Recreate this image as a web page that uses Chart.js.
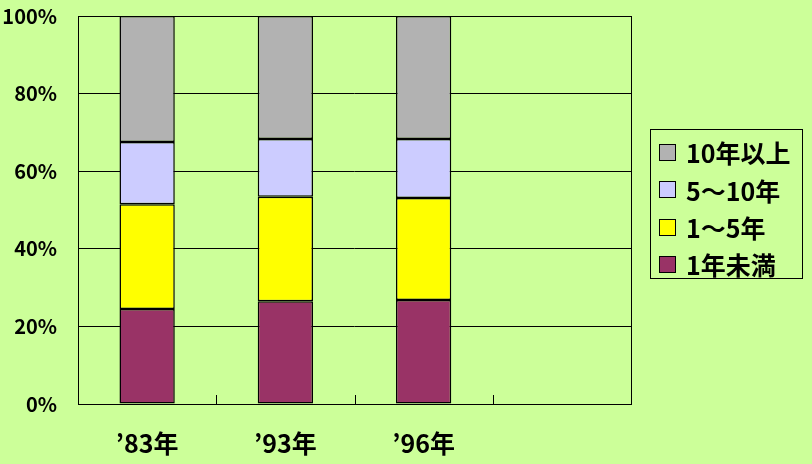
<!DOCTYPE html>
<html><head><meta charset="utf-8">
<script src="https://cdn.jsdelivr.net/npm/chart.js@4/dist/chart.umd.min.js"></script>
<style>
html,body{margin:0;padding:0;background:#CCFF99;}
#wrap{position:relative;width:812px;height:464px;}
#legend{position:absolute;left:650px;top:129px;width:151px;height:148px;border:1px solid #000;font-family:"Noto Sans CJK JP";font-weight:bold;font-size:25px;color:#000;}
.item{position:absolute;left:8px;display:flex;align-items:center;height:30px;line-height:30px;}
.sw{width:15px;height:15px;border:1px solid #000;margin-right:10px;flex:none;}
</style>
</head><body>
<div id="wrap">
<canvas id="c" width="812" height="464"></canvas>
<div id="legend"></div>
</div>
<script>
const categories = ["’83年", "’93年", "’96年", ""];
const seriesNames = ["1年未満", "1～5年", "5～10年", "10年以上"];
const lessThan1 = [24.5, 26.5, 26.8, null];
const from1to5 = [27.0, 26.9, 26.3, null];
const from5to10 = [16.0, 14.9, 15.2, null];
const over10 = [32.5, 31.7, 31.7, null];
const yTicks = [0, 20, 40, 60, 80, 100];

const colors = ["#993366", "#FFFF00", "#CCCCFF", "#B2B2B2"];
const values = [lessThan1, from1to5, from5to10, over10];

const FONT = '"Noto Sans CJK JP", "Noto Sans", sans-serif';

const frame = {
  id: 'frame',
  afterDatasetsDraw(chart) {
    const {ctx, chartArea: a, scales: {x}} = chart;
    ctx.save();
    ctx.strokeStyle = '#000';
    ctx.lineWidth = 1;
    ctx.strokeRect(Math.round(a.left) + 0.5, Math.round(a.top) + 0.5, Math.round(a.right - a.left), Math.round(a.bottom - a.top));
    const n = categories.length;
    ctx.beginPath();
    for (let i = 0; i < n - 1; i++) {
      const px = Math.round((x.getPixelForValue(i) + x.getPixelForValue(i + 1)) / 2) + 0.5;
      ctx.moveTo(px, a.bottom);
      ctx.lineTo(px, a.bottom - 9);
    }
    ctx.stroke();
    ctx.restore();
  }
};

new Chart(document.getElementById('c'), {
  type: 'bar',
  data: {
    labels: categories,
    datasets: seriesNames.map((name, i) => ({
      label: name,
      data: values[i],
      backgroundColor: colors[i],
      borderColor: '#000',
      borderWidth: 1.5,
      borderSkipped: false,
      categoryPercentage: 1.0,
      barPercentage: 0.4
    }))
  },
  options: {
    responsive: false,
    animation: false,
    layout: {padding: {left: 0, top: 16, right: 181, bottom: 0}},
    plugins: {legend: {display: false}, tooltip: {enabled: false}},
    scales: {
      x: {
        stacked: true,
        grid: {display: false, drawTicks: false},
        border: {display: false},
        ticks: {color: '#000', padding: 24, font: {family: FONT, size: 25, weight: 'bold'}},
        afterFit(s) { s.height = 60; s.paddingLeft = 0; s.paddingRight = 0; }
      },
      y: {
        stacked: true,
        min: 0, max: 100,
        afterBuildTicks(s) { s.ticks = yTicks.map(v => ({value: v})); },
        grid: {color: '#000', lineWidth: 1, drawTicks: false},
        border: {display: false},
        ticks: {color: '#000', padding: 21, font: {family: FONT, size: 20, weight: 'bold'}, callback: v => v + '%'},
        afterFit(s) { s.width = 78; s.paddingTop = 0; s.paddingBottom = 0; }
      }
    }
  },
  plugins: [frame]
});

const lg = document.getElementById('legend');
const centers = [22, 59.5, 97, 134];
for (let k = seriesNames.length - 1, r = 0; k >= 0; k--, r++) {
  const it = document.createElement('div');
  it.className = 'item';
  it.style.top = (centers[r] - 15) + 'px';
  const sw = document.createElement('div');
  sw.className = 'sw';
  sw.style.background = colors[k];
  const t = document.createElement('span');
  t.textContent = seriesNames[k];
  it.appendChild(sw); it.appendChild(t);
  lg.appendChild(it);
}
</script>
</body></html>
